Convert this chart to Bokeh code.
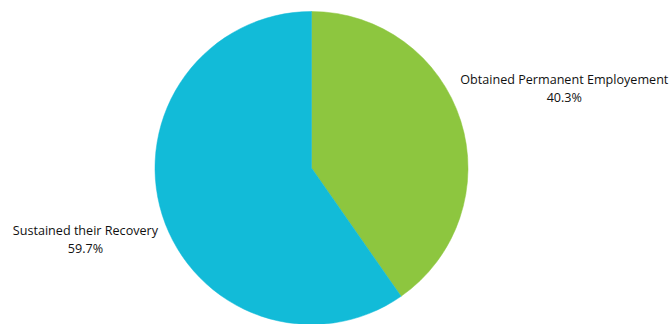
import math
from bokeh.plotting import figure
from bokeh.models import Range1d, ColumnDataSource
from bokeh.core.properties import value
from bokeh.embed import file_html
from bokeh.resources import INLINE

categories = ["Obtained Permanent Employement", "Sustained their Recovery"]
percents = [40.3, 59.7]
colors = ["#8DC63F", "#12BBD8"]

W, H = 671, 324
cx, cy, R = 311, 324 - 167.5, 156.5
label_r = [265, 237]

p = figure(width=W, height=H, output_backend="svg", toolbar_location=None,
           x_range=Range1d(0, W), y_range=Range1d(0, H),
           x_axis_location=None, y_axis_location=None, min_border=0)
p.grid.visible = False
p.outline_line_color = None
p.background_fill_color = "white"

total = sum(percents)
starts, ends, mids = [], [], []
a = math.pi / 2
for v in percents:
    sweep = 2 * math.pi * v / total
    starts.append(a)
    ends.append(a - sweep)
    mids.append(a - sweep / 2)
    a -= sweep

src = ColumnDataSource(dict(start=starts, end=ends, color=colors))
p.wedge(x=cx, y=cy, radius=R, start_angle="start", end_angle="end",
        direction="clock", fill_color="color", line_color="color", line_width=0.5, source=src)

lx = [cx + r * math.cos(m) for r, m in zip(label_r, mids)]
ly = [cy + r * math.sin(m) for r, m in zip(label_r, mids)]
names = categories
pcts = [f"{v:.1f}%" for v in percents]
tsrc = ColumnDataSource(dict(x=lx, y=ly, name=names, pct=pcts))
p.text(x="x", y="y", text="name", source=tsrc, text_align="center", text_baseline="middle",
       y_offset=-9, text_font=value("Open Sans"), text_font_size="12.6px", text_color="#111111")
p.text(x="x", y="y", text="pct", source=tsrc, text_align="center", text_baseline="middle",
       y_offset=9, text_font=value("Open Sans"), text_font_size="12.6px", text_color="#111111")

open("out.html", "w").write(file_html(p, INLINE))
